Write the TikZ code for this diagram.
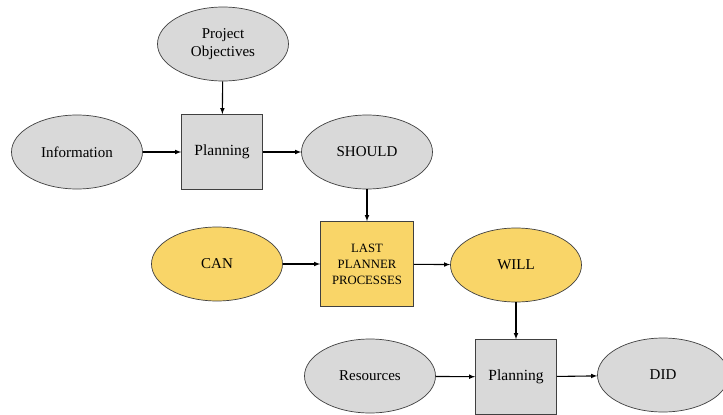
\documentclass[tikz,border=0pt]{standalone}
\usepackage{fontspec}
\setmainfont{Liberation Serif}
\usetikzlibrary{shapes.geometric}
\definecolor{boxgray}{HTML}{D9D9D9}
\definecolor{lpyellow}{HTML}{F9D568}
\begin{document}
\begin{tikzpicture}[x=1pt,y=-1pt,>=latex,
  oval/.style={ellipse,draw=black!75,line width=0.7pt,fill=boxgray,
    minimum width=131pt,minimum height=74pt,inner sep=0pt,font=\rmfamily\fontsize{15}{18}\selectfont,align=center},
  square/.style={rectangle,draw=black!75,line width=0.7pt,fill=boxgray,
    minimum width=81pt,minimum height=75pt,inner sep=0pt,font=\rmfamily\fontsize{15.5}{18}\selectfont,align=center},
  flow/.style={->,line width=1.1pt}]
\useasboundingbox (0,0) rectangle (723,415);
% partie haute
\node[oval] (objectives) at (223,44) {Project\\Objectives};
\node[oval] (information) at (77,152) {Information};
\node[square] (planningA) at (222,152) {Planning};
\node[oval] (should) at (367,152) {SHOULD};
% partie centrale
\node[oval,fill=lpyellow] (can) at (217,264) {CAN};
\node[square,fill=lpyellow,minimum width=93pt,minimum height=85pt,
  font=\rmfamily\fontsize{12.7}{16}\selectfont] (lpp) at (367,264) {LAST\\PLANNER\\PROCESSES};
\node[oval,fill=lpyellow] (will) at (516,265) {WILL};
% partie basse
\node[oval] (resources) at (370,376) {Resources};
\node[square] (planningB) at (516,377) {Planning};
\node[oval] (did) at (663,375) {DID};

\draw[flow] (objectives) -- (planningA);
\draw[flow] (information) -- (planningA);
\draw[flow] (planningA) -- (should);
\draw[flow] (should) -- (lpp);
\draw[flow] (can) -- (lpp);
\draw[flow] (lpp) -- (will);
\draw[flow] (will) -- (planningB);
\draw[flow] (resources) -- (planningB);
\draw[flow] (planningB) -- (did);
\end{tikzpicture}
\end{document}
